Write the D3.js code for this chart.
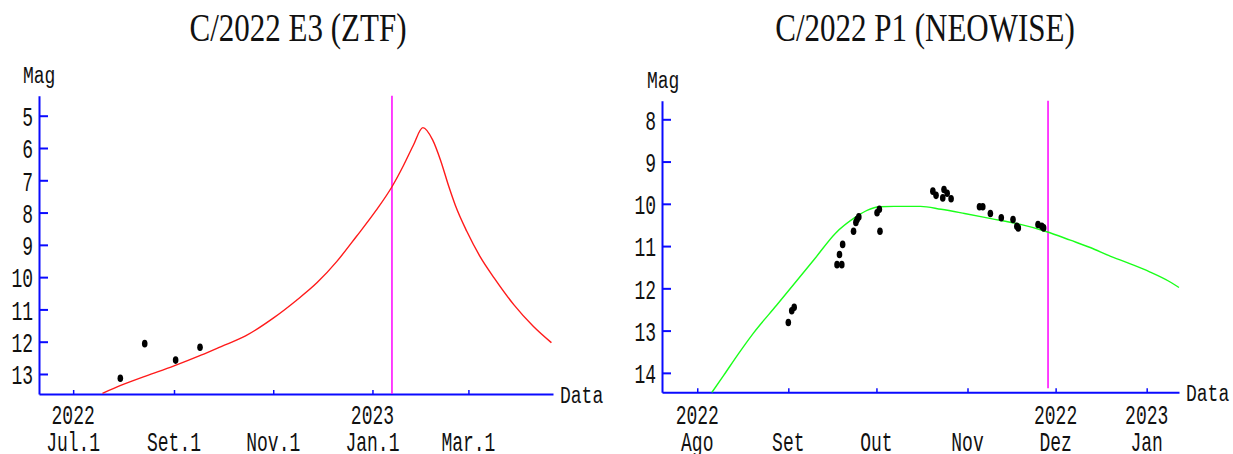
<!DOCTYPE html>
<html lang="pt">
<head>
<meta charset="utf-8">
<title>Curvas de luz de cometas</title>
<script src="https://d3js.org/d3.v7.min.js"></script>
<style>
  html, body { margin: 0; padding: 0; background: #fff; }
</style>
</head>
<body>
<div id="chart"></div>
<script>
// ---- C/2022 E3 (ZTF) ----
const ztfCurveDates = ['2022-07-19','2022-07-31','2022-08-15','2022-09-01','2022-09-18','2022-09-30',
  '2022-10-15','2022-11-01','2022-11-15','2022-11-28','2022-12-10','2022-12-22','2023-01-03',
  '2023-01-13','2023-01-20','2023-01-26','2023-02-01','2023-02-07','2023-02-12','2023-02-17',
  '2023-02-21','2023-02-28','2023-03-08','2023-03-17','2023-03-29','2023-04-10','2023-04-21'];
const ztfCurveMag = [13.60, 13.34, 13.06, 12.75, 12.41, 12.15,
  11.82, 11.27, 10.73, 10.17, 9.52, 8.75, 7.95,
  7.20, 6.55, 5.93, 5.37, 5.75, 6.40, 7.20,
  7.78, 8.58, 9.35, 10.04, 10.86, 11.53, 12.03];
const ztfObsDates = ['2022-07-30','2022-08-14','2022-09-02','2022-09-17'];
const ztfObsMag = [13.13, 12.06, 12.57, 12.17];
const ztfYTicks = [5, 6, 7, 8, 9, 10, 11, 12, 13];
const ztfXTicks = ['2022-07-01','2022-09-01','2022-11-01','2023-01-01','2023-03-01'];
const ztfMonthLabels = ['Jul.1','Set.1','Nov.1','Jan.1','Mar.1'];
const ztfYearLabels = ['2022','','','2023',''];
const ztfMarkerDate = '2023-01-13';

// ---- C/2022 P1 (NEOWISE) ----
const neoCurveDates = ['2022-08-06','2022-08-10','2022-08-15','2022-08-20','2022-08-28','2022-09-04',
  '2022-09-10','2022-09-17','2022-09-24','2022-09-28','2022-10-02','2022-10-07','2022-10-16',
  '2022-10-23','2022-10-31','2022-11-09','2022-11-18','2022-11-28','2022-12-06','2022-12-13',
  '2022-12-19','2022-12-26','2023-01-02','2023-01-09','2023-01-12'];
const neoCurveMag = [14.46, 14.06, 13.55, 13.07, 12.40, 11.81,
  11.30, 10.70, 10.31, 10.15, 10.07, 10.06, 10.06,
  10.13, 10.23, 10.35, 10.47, 10.66, 10.86, 11.04,
  11.22, 11.41, 11.61, 11.85, 11.98];
const neoObsDates = ['2022-09-01T00:00','2022-09-02T04:00','2022-09-03T00:00',
  '2022-09-17T14:00','2022-09-19T05:00','2022-09-18T10:00','2022-09-19T12:00',
  '2022-09-23T05:00','2022-09-24T10:00','2022-09-24T00:00','2022-09-25T00:00',
  '2022-10-01T05:00','2022-10-02T00:00','2022-10-02T05:00',
  '2022-10-20T05:00','2022-10-21T07:00','2022-10-23T14:00','2022-10-24T00:00','2022-10-25T02:00','2022-10-26T10:00',
  '2022-11-05T02:00','2022-11-06T05:00','2022-11-08T19:00','2022-11-12T12:00',
  '2022-11-16T12:00','2022-11-17T19:00','2022-11-18T07:00',
  '2022-11-25T00:00','2022-11-26T07:00','2022-11-26T22:00'];
const neoObsMag = [12.81, 12.53, 12.45,
  11.44, 11.44, 11.20, 10.96,
  10.65, 10.37, 10.44, 10.31,
  10.21, 10.13, 10.65,
  9.70, 9.80, 9.86, 9.66, 9.75, 9.88,
  10.07, 10.07, 10.23, 10.33,
  10.37, 10.53, 10.57,
  10.49, 10.53, 10.57];
const neoYTicks = [8, 9, 10, 11, 12, 13, 14];
const neoXTicks = ['2022-08-01','2022-09-01','2022-10-01','2022-11-01','2022-12-01','2023-01-01'];
const neoMonthLabels = ['Ago','Set','Out','Nov','Dez','Jan'];
const neoYearLabels = ['2022','','','','2022','2023'];
const neoMarkerDate = '2022-11-28T10:00';

const width = 1233;
const height = 454;
const axisBlue = '#0a0aff';
const monoFont = '"Liberation Mono", "DejaVu Sans Mono", monospace';
const serifFont = '"Liberation Serif", "Times New Roman", serif';

const svg = d3.select('#chart').append('svg')
  .attr('width', width)
  .attr('height', height);

// text stretched vertically, like the original bitmap output
function stretchedText(g, x, y, str, opts) {
  return g.append('text')
    .attr('transform', `translate(${x},${y}) scale(1,${opts.sy})`)
    .attr('text-anchor', opts.anchor || 'start')
    .style('font-family', opts.font || monoFont)
    .style('font-size', (opts.size || 18) + 'px')
    .attr('fill', '#111')
    .text(str);
}

function drawPanel(p) {
  const g = svg.append('g');
  const parse = s => new Date(s + (s.length === 10 ? 'T00:00Z' : 'Z'));

  const x = d3.scaleUtc().domain(p.xDomain.map(parse)).range([p.left, p.right]);
  const y = d3.scaleLinear().domain(p.yDomain).range([p.top, p.bottom]);

  // title
  stretchedText(g, p.titleX, 41, p.title, { sy: 1.3, anchor: 'middle', font: serifFont, size: 31 });

  // y axis, ticks pointing inward
  const yAxis = g.append('g')
    .attr('transform', `translate(${p.left},0)`)
    .call(d3.axisLeft(y).tickValues(p.yTicks).tickSizeInner(-9).tickSizeOuter(0)
      .tickPadding(6).tickFormat(d3.format('d')));
  yAxis.selectAll('.domain, .tick line').attr('stroke', axisBlue).attr('stroke-width', 2);
  yAxis.selectAll('.tick text')
    .attr('transform', 'scale(1,1.55)')
    .attr('dy', '0.35em')
    .attr('fill', '#111')
    .style('font-family', monoFont)
    .style('font-size', '18px');

  // x axis, small ticks pointing up
  const xAxis = g.append('g')
    .attr('transform', `translate(0,${p.bottom})`)
    .call(d3.axisBottom(x).tickValues(p.xTicks.map(parse)).tickSizeInner(-4).tickSizeOuter(0)
      .tickFormat(() => ''));
  xAxis.selectAll('.domain').attr('stroke', axisBlue).attr('stroke-width', 2);
  xAxis.selectAll('.tick line').attr('stroke', axisBlue).attr('stroke-width', 1.5);

  p.xTicks.forEach((d, i) => {
    const tx = x(parse(d));
    if (p.yearLabels[i]) stretchedText(g, tx, 424, p.yearLabels[i], { sy: 1.55, anchor: 'middle' });
    stretchedText(g, tx, 451, p.monthLabels[i], { sy: 1.55, anchor: 'middle' });
  });

  // axis names
  stretchedText(g, p.magX, p.magY, 'Mag', { sy: 1.28 });
  stretchedText(g, p.right + 7, p.bottom + 9, 'Data', { sy: 1.28 });

  // current date marker
  g.append('line')
    .attr('x1', x(parse(p.markerDate))).attr('x2', x(parse(p.markerDate)))
    .attr('y1', p.top).attr('y2', p.bottom - p.markerGap)
    .attr('stroke', '#ff00ff').attr('stroke-width', 1.5);

  // predicted light curve
  const pts = p.curveDates.map((d, i) => [x(parse(d)), y(p.curveMag[i])]);
  g.append('path')
    .attr('d', d3.line().curve(d3.curveMonotoneX)(pts))
    .attr('fill', 'none')
    .attr('stroke', p.curveColor)
    .attr('stroke-width', 1.4);

  // observations
  g.selectAll('ellipse.obs')
    .data(p.obsDates.map((d, i) => ({ date: parse(d), mag: p.obsMag[i] })))
    .enter()
    .append('ellipse')
    .attr('class', 'obs')
    .attr('cx', d => x(d.date))
    .attr('cy', d => y(d.mag))
    .attr('rx', 2.8)
    .attr('ry', 3.8)
    .attr('fill', '#000');
}

drawPanel({
  title: 'C/2022 E3 (ZTF)', titleX: 298,
  left: 39, right: 553, top: 95.7, bottom: 394,
  xDomain: ['2022-06-10', '2023-04-22'], yDomain: [4.38, 13.62],
  yTicks: ztfYTicks, xTicks: ztfXTicks, monthLabels: ztfMonthLabels, yearLabels: ztfYearLabels,
  magX: 23, magY: 83, markerDate: ztfMarkerDate, markerGap: 0,
  curveDates: ztfCurveDates, curveMag: ztfCurveMag, curveColor: '#ff1a1a',
  obsDates: ztfObsDates, obsMag: ztfObsMag
});

drawPanel({
  title: 'C/2022 P1 (NEOWISE)', titleX: 925,
  left: 662, right: 1179, top: 100.7, bottom: 392.3,
  xDomain: ['2022-07-20', '2023-01-12'], yDomain: [7.56, 14.46],
  yTicks: neoYTicks, xTicks: neoXTicks, monthLabels: neoMonthLabels, yearLabels: neoYearLabels,
  magX: 647, magY: 88, markerDate: neoMarkerDate, markerGap: 4,
  curveDates: neoCurveDates, curveMag: neoCurveMag, curveColor: '#1aff1a',
  obsDates: neoObsDates, obsMag: neoObsMag
});
</script>
</body>
</html>
